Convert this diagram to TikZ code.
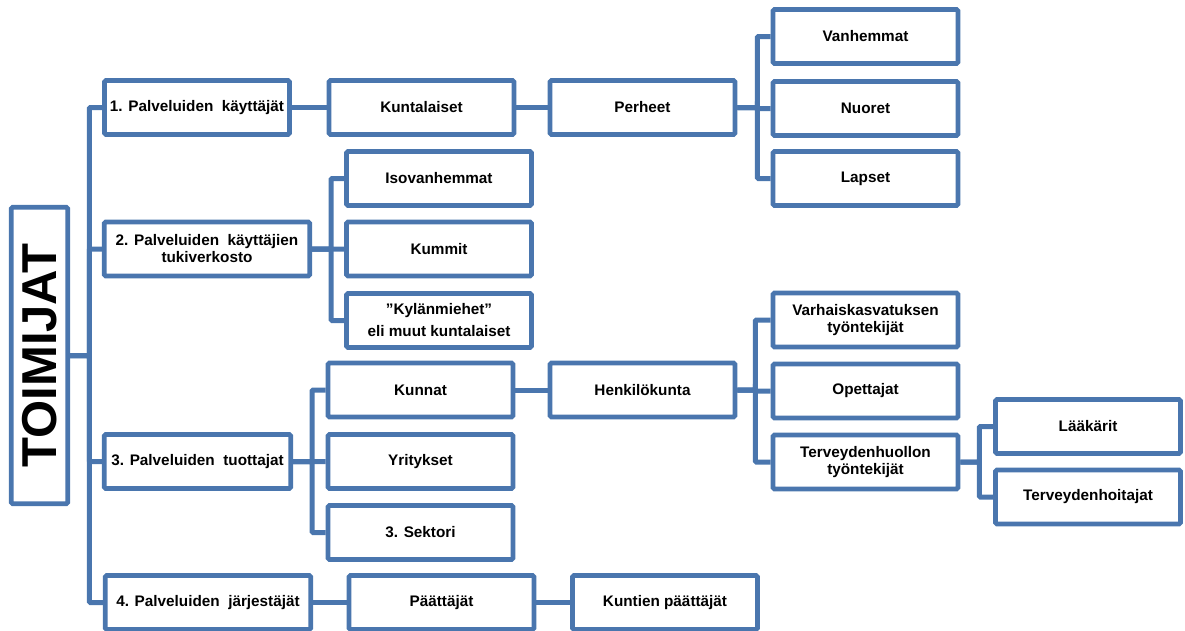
\documentclass[tikz,border=0pt]{standalone}
\usepackage{fontspec}
\usepackage{graphicx}
\setmainfont{Liberation Sans}
\definecolor{bl}{RGB}{74,118,174}
\tikzset{
  box/.style={draw=bl, line width=4.8pt, fill=white, rounded corners=1.5pt,
    minimum width=185pt, minimum height=54pt, align=center, inner sep=2pt,
    text=black, font=\bfseries\fontsize{15.3}{17}\selectfont},
  conn/.style={draw=bl, line width=5pt, rounded corners=1pt}
}
\begin{document}
\begin{tikzpicture}[x=1pt,y=-1pt]
\useasboundingbox (0,0) rectangle (1185,630);
\clip (0,0) rectangle (1185,630);
% root
\node[box, minimum width=56.5pt, minimum height=296.5pt, inner sep=0pt, font=\bfseries\fontsize{49}{49}\selectfont] (root) at (39.5,355.5) {\rotatebox{90}{TOIMIJAT}};
% level 1
\node[box] (b1) at (197,107.5) {1. Palveluiden\ \ käyttäjät};
\node[box, minimum width=205.5pt] (b2) at (207,249) {2. Palveluiden\ \ käyttäjien\\tukiverkosto};
\node[box, minimum width=186.5pt] (b3) at (197.5,461.5) {3. Palveluiden\ \ tuottajat};
\node[box, minimum width=205.5pt] (b4) at (208,602.5) {4. Palveluiden\ \ järjestäjät};
% branch 1
\node[box] (kunt) at (421.5,107.5) {Kuntalaiset};
\node[box] (perh) at (642.5,107.5) {Perheet};
\node[box] (vanh) at (865.5,36.5) {Vanhemmat};
\node[box] (nuor) at (865.5,108.5) {Nuoret};
\node[box] (laps) at (865.5,178.5) {Lapset};
% branch 2
\node[box] (iso) at (439,178.5) {Isovanhemmat};
\node[box] (kumm) at (439,249) {Kummit};
\node[box] (kyla) at (439,320.5) {”Kylänmiehet”\\[5pt]eli muut kuntalaiset};
% branch 3
\node[box] (kunn) at (420.5,390) {Kunnat};
\node[box] (yrit) at (420.5,461.5) {Yritykset};
\node[box] (sekt) at (420.5,532.5) {3. Sektori};
\node[box] (henk) at (642.5,390) {Henkilökunta};
\node[box] (varh) at (865.5,320) {Varhaiskasvatuksen\\työntekijät};
\node[box] (opet) at (865.5,391) {Opettajat};
\node[box] (terv) at (865.5,462) {Terveydenhuollon\\työntekijät};
\node[box] (laak) at (1088,426.5) {Lääkärit};
\node[box] (thoi) at (1088,497) {Terveydenhoitajat};
% branch 4
\node[box] (paat) at (441.5,602.5) {Päättäjät};
\node[box] (kpaa) at (665,602.5) {Kuntien päättäjät};
% connectors
\foreach \c in {b1,b2,b3,b4} \draw[conn] (root.east) -- ++(19.25,0) |- (\c.west);
\draw[conn] (b1.east) -- (kunt.west);
\draw[conn] (kunt.east) -- (perh.west);
\foreach \c in {vanh,nuor,laps} \draw[conn] (perh.east) -- ++(20,0) |- (\c.west);
\foreach \c in {iso,kumm,kyla} \draw[conn] (b2.east) -- ++(19,0) |- (\c.west);
\foreach \c in {kunn,yrit,sekt} \draw[conn] (b3.east) -- ++(19,0) |- (\c.west);
\draw[conn] (kunn.east) -- (henk.west);
\foreach \c in {varh,opet,terv} \draw[conn] (henk.east) -- ++(18,0) |- (\c.west);
\foreach \c in {laak,thoi} \draw[conn] (terv.east) -- ++(19,0) |- (\c.west);
\draw[conn] (b4.east) -- (paat.west);
\draw[conn] (paat.east) -- (kpaa.west);
\end{tikzpicture}
\end{document}
